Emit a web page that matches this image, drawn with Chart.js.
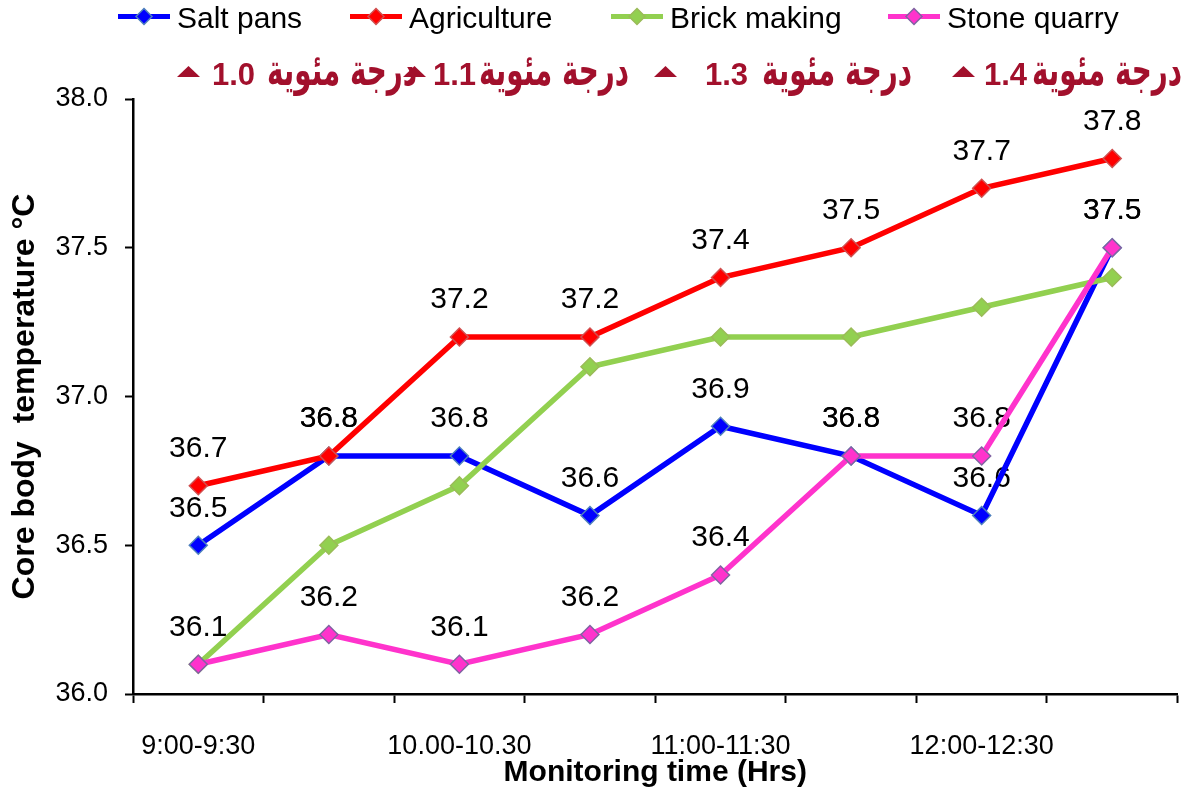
<!DOCTYPE html>
<html>
<head>
<meta charset="utf-8">
<title>Core body temperature by occupation</title>
<script src="https://cdn.jsdelivr.net/npm/chart.js@4.4.1/dist/chart.umd.min.js"></script>
<style>
  html, body { margin: 0; padding: 0; background: #ffffff; }
  #wrap { width: 1188px; height: 792px; position: relative; }
</style>
</head>
<body>
<div id="wrap"><canvas id="chart"></canvas></div>
<script>
// ---- data ----
const timeLabels = ['9:00-9:30', '', '10.00-10.30', '', '11:00-11:30', '', '12:00-12:30', ''];
const seriesNames = ['Salt pans', 'Agriculture', 'Brick making', 'Stone quarry'];
const saltPans    = [36.5, 36.8, 36.8, 36.6, 36.9, 36.8, 36.6, 37.5];
const agriculture = [36.7, 36.8, 37.2, 37.2, 37.4, 37.5, 37.7, 37.8];
const brickMaking = [36.1, 36.5, 36.7, 37.1, 37.2, 37.2, 37.3, 37.4];
const stoneQuarry = [36.1, 36.2, 36.1, 36.2, 36.4, 36.8, 36.8, 37.5];
const yTicks = [36.0, 36.5, 37.0, 37.5, 38.0];
const riseValues = ['1.0', '1.1', '1.3', '1.4'];
const riseUnit = 'درجة مئوية';

// ---- styling ----
const FONT = '"Liberation Sans", Arial, sans-serif';
const ARABIC_FONT = '"DejaVu Sans", "Noto Sans", sans-serif';
const RISE_COLOR = '#A2102C';

function lineSeries(label, data, line, markerBorder, showValues, order) {
  return {
    label, data, order, showValues,
    borderColor: line,
    backgroundColor: line,
    borderWidth: 5.5,
    pointStyle: 'rectRot',
    pointRadius: 9,
    pointHoverRadius: 9,
    pointBackgroundColor: line,
    pointBorderColor: markerBorder,
    pointBorderWidth: 1.5,
    tension: 0,
    fill: false
  };
}

// numbers printed above the points of the labelled series
const valueLabels = {
  id: 'valueLabels',
  beforeDatasetsDraw(chart) {
    const ctx = chart.ctx;
    ctx.save();
    ctx.font = '30px ' + FONT;
    ctx.fillStyle = '#000';
    ctx.textAlign = 'center';
    ctx.textBaseline = 'middle';
    chart.data.datasets.forEach((ds, i) => {
      if (!ds.showValues) return;
      chart.getDatasetMeta(i).data.forEach((pt, j) => {
        ctx.fillText(ds.data[j].toFixed(1), pt.x, pt.y - 37);
      });
    });
    ctx.restore();
  }
};

// legend row: line with diamond marker, then the series name
const lineLegend = {
  id: 'lineLegend',
  afterDraw(chart) {
    const ctx = chart.ctx;
    const starts = [118, 350, 611, 888];
    const cy = 16.5;
    ctx.save();
    chart.data.datasets.forEach((ds, i) => {
      const x0 = starts[i];
      ctx.strokeStyle = ds.borderColor;
      ctx.lineWidth = 5;
      ctx.beginPath();
      ctx.moveTo(x0, cy);
      ctx.lineTo(x0 + 52, cy);
      ctx.stroke();
      const mx = x0 + 26, r = 8;
      ctx.beginPath();
      ctx.moveTo(mx, cy - r);
      ctx.lineTo(mx + r, cy);
      ctx.lineTo(mx, cy + r);
      ctx.lineTo(mx - r, cy);
      ctx.closePath();
      ctx.fillStyle = ds.pointBackgroundColor;
      ctx.fill();
      ctx.lineWidth = 1.5;
      ctx.strokeStyle = ds.pointBorderColor;
      ctx.stroke();
      ctx.fillStyle = '#000';
      ctx.font = '30px ' + FONT;
      ctx.textAlign = 'left';
      ctx.textBaseline = 'alphabetic';
      ctx.fillText(ds.label, x0 + 59, 27.5);
    });
    ctx.restore();
  }
};

// temperature-rise notes under the legend
const riseNotes = {
  id: 'riseNotes',
  afterDraw(chart) {
    const ctx = chart.ctx;
    const slots = [
      { tri: 177, num: 212, txt: 267 },
      { tri: 403, num: 433, txt: 479 },
      { tri: 654, num: 705, txt: 762 },
      { tri: 952, num: 984, txt: 1032 }
    ];
    const baseline = 85;
    const arFont = 'bold 44px ' + ARABIC_FONT;
    ctx.save();
    ctx.fillStyle = RISE_COLOR;
    ctx.textAlign = 'left';
    ctx.textBaseline = 'alphabetic';
    ctx.font = arFont;
    const squeeze = Math.min(1, 150 / ctx.measureText(riseUnit).width);
    riseValues.forEach((v, i) => {
      const s = slots[i];
      ctx.beginPath();
      ctx.moveTo(s.tri, 77);
      ctx.lineTo(s.tri + 23, 77);
      ctx.lineTo(s.tri + 11.5, 66);
      ctx.closePath();
      ctx.fill();
      ctx.font = 'bold 31px ' + FONT;
      ctx.fillText(v, s.num, baseline);
      ctx.save();
      ctx.translate(s.txt, baseline);
      ctx.scale(squeeze, 1);
      ctx.font = arFont;
      ctx.fillText(riseUnit, 0, 0);
      ctx.restore();
    });
    ctx.restore();
  }
};

new Chart(document.getElementById('chart'), {
  type: 'line',
  data: {
    labels: timeLabels,
    datasets: [
      lineSeries(seriesNames[0], saltPans,    '#0000FF', '#4F81BD', true, 4),
      lineSeries(seriesNames[1], agriculture, '#FF0000', '#D05050', true, 3),
      lineSeries(seriesNames[2], brickMaking, '#92D050', '#9BBB59', false, 2),
      lineSeries(seriesNames[3], stoneQuarry, '#FF33CC', '#8064A2', true, 1)
    ]
  },
  options: {
    responsive: true,
    maintainAspectRatio: false,
    animation: false,
    devicePixelRatio: 1,
    layout: { padding: { top: 99, right: 8, bottom: 0, left: 0 } },
    plugins: {
      legend: { display: false },
      tooltip: { enabled: false },
      title: { display: false }
    },
    scales: {
      x: {
        type: 'category',
        offset: true,
        grid: { offset: true, drawOnChartArea: false, drawTicks: true, tickLength: 9, tickWidth: 2, tickColor: '#000' },
        border: { display: true, color: '#000', width: 2.5 },
        ticks: {
          autoSkip: false, maxRotation: 0, minRotation: 0, padding: 27,
          color: '#000', font: { family: FONT, size: 27 }
        },
        title: {
          display: true, text: 'Monitoring time (Hrs)', color: '#000',
          font: { family: FONT, size: 30, weight: 'bold' },
          padding: { top: 0, bottom: 1 }
        },
        afterFit(scale) { scale.height = 98; }
      },
      y: {
        min: yTicks[0],
        max: yTicks[yTicks.length - 1],
        afterBuildTicks(scale) { scale.ticks = yTicks.map(v => ({ value: v })); },
        grid: { drawOnChartArea: false, drawTicks: true, tickLength: 8, tickWidth: 2, tickColor: '#000' },
        border: { display: true, color: '#000', width: 2.5 },
        ticks: {
          padding: 17, color: '#000', font: { family: FONT, size: 27 },
          callback: v => Number(v).toFixed(1)
        },
        title: {
          display: true, text: 'Core body  temperature °C', color: '#000',
          font: { family: FONT, size: 32, weight: 'bold' },
          padding: { top: 6, bottom: 0 }
        },
        afterFit(scale) { scale.width = 133; }
      }
    }
  },
  plugins: [valueLabels, lineLegend, riseNotes]
});
</script>
</body>
</html>
